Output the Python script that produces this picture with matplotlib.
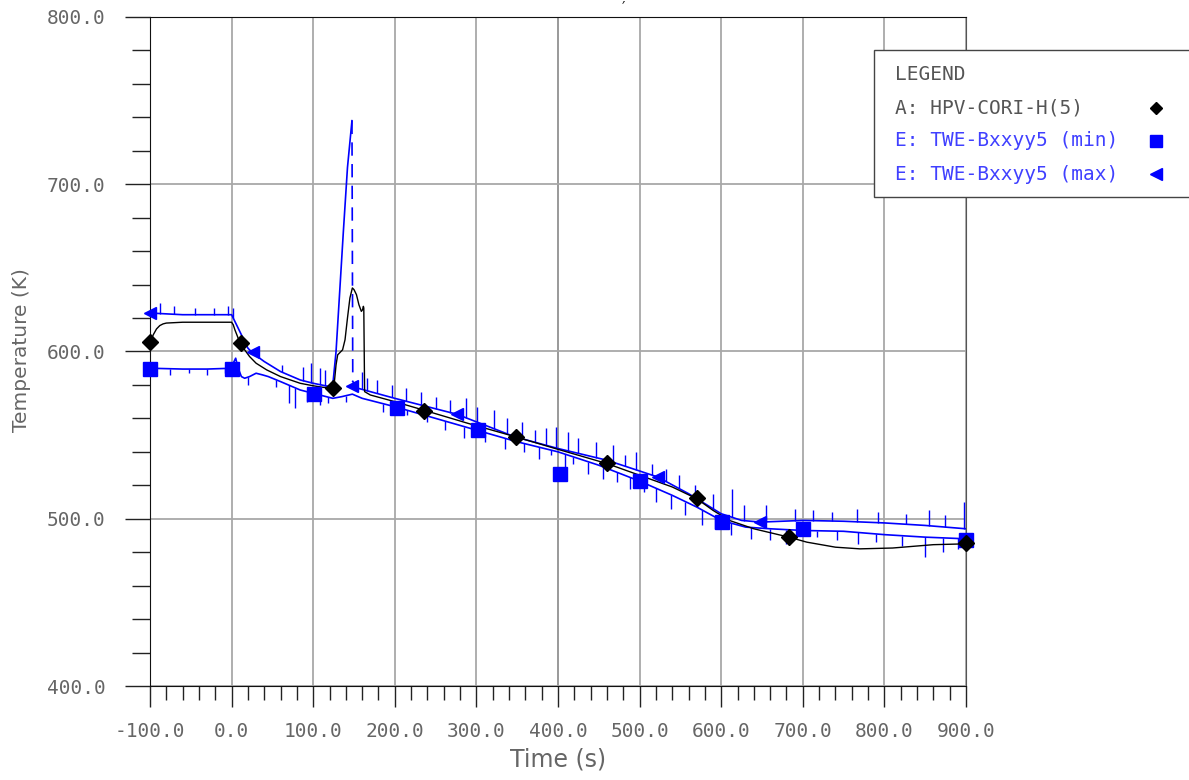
import numpy as np
import matplotlib
matplotlib.use('Agg')
import matplotlib.pyplot as plt
from matplotlib.patches import Rectangle
from matplotlib.lines import Line2D
from matplotlib.ticker import MultipleLocator, FormatStrFormatter

# A: HPV-CORI-H(5), calculated
a_t = [-100, -96, -92, -88, -84, -80, -60, -30, 0, 2, 4, 8, 11, 16, 22, 30, 43, 60, 84,
       100, 120, 124, 126, 128, 130, 133, 136, 139, 142, 145, 148, 150, 153, 156, 159,
       160.5, 161.5, 162, 163, 170, 200, 235, 290, 348, 400, 460, 500, 540, 570,
       590, 610, 640, 683, 705, 740, 770, 810, 860, 900]
a_T = [605, 610, 613.5, 615.5, 616.5, 617, 617.5, 617.5, 617.5, 616, 613, 608, 605, 601, 597, 593, 589, 585, 581,
       579.5, 578, 578, 582, 592, 598, 599.5, 601, 607, 620, 632, 638, 637, 634, 628, 624,
       625, 627, 626, 576, 574, 570, 565, 557, 549, 541.5, 533, 526, 519, 512,
       505, 499, 494, 489, 486, 483, 482, 482.5, 484.5, 485]
a_mk_t = [-100, 11, 124, 236, 348, 460, 570, 683, 900]
a_mk_T = [605.5, 605, 578, 564.5, 549, 533.5, 512.5, 489, 485.5]

# E: TWE-Bxxyy5 (min), measured
min_t = [-100, -60, -30, 0, 2, 5, 8, 12, 16, 22, 30, 38, 45, 60, 84, 100, 124, 135, 148, 160,
         200, 250, 300, 350, 400, 450, 500, 540, 570, 600, 630, 660, 700, 750, 800, 850, 900]
min_T = [590, 589.5, 589.5, 590, 593, 596, 590, 585, 584, 585, 587, 586, 585, 582, 577, 575, 572, 573, 574.5, 572,
         567, 560, 553, 546, 540, 532, 522.5, 514, 507, 499, 495, 494, 493, 492.5, 490.5, 489, 488]
min_mk_t = [-100, 0, 101, 203, 302, 402, 500, 601, 700, 900]
min_mk_T = [589.5, 589.5, 574.5, 566, 553, 527, 522.5, 498, 494, 487]
min_spk_t = [-75, -52, -30, -8, 20, 55, 70, 78, 92, 108, 118, 140, 185, 215, 240, 262, 285, 310, 335, 358,
             377, 391, 408, 418, 437, 455, 472, 488, 505, 520, 538, 556, 577, 592, 612, 636, 660, 680, 718, 742,
             768, 790, 822, 850, 872, 890]
min_spk_T = [586, 587, 586, 587, 580, 579, 569, 566, 570, 568, 569, 570, 564, 562, 558, 553, 548, 546, 542, 540,
             536, 538, 523, 533, 527, 524, 522, 518, 516, 510, 506, 502, 496, 494, 490, 488, 487, 485, 489, 487,
             485, 486, 484, 477, 480, 482]

# E: TWE-Bxxyy5 (max), measured; PEAK is the index of the 740 K excursion
max_t = [-100, -60, -30, 0, 3, 10, 20, 26, 40, 60, 84, 100, 120, 124, 128, 132, 137, 142, 147.5,
         148.5, 155, 170, 200, 276, 347, 400, 460, 522, 560, 600, 625, 648, 700, 750, 800, 850, 900]
max_T = [623, 622, 622, 622, 619, 612, 602, 599, 594, 588, 583, 581, 579, 580, 600, 632, 672, 710, 738,
         582, 578, 576, 572, 562.5, 549, 542, 535, 525, 515, 503, 499, 498, 499, 498.5, 497.5, 496, 494]
PEAK = 18
max_mk_t = [-100, 26, 147.5, 276, 522.5, 647.5]
max_mk_T = [623, 599.5, 579.5, 562.5, 525, 498]
max_spk_t = [-88, -70, -45, -22, -5, 2, 62, 88, 97, 108, 115, 160, 166, 178, 196, 214, 232, 251, 268, 287,
             301, 322, 338, 356, 372, 385, 397, 412, 425, 447, 468, 482, 495, 515, 532, 548, 568, 590, 613, 628,
             655, 690, 712, 736, 766, 792, 826, 855, 874, 898]
max_spk_T = [629, 627, 626, 626, 627, 626, 592, 591, 593, 590, 589, 588, 584, 583, 580, 578, 576, 573, 571, 572,
             567, 565, 560, 558, 553, 554, 555, 552, 548, 546, 544, 538, 540, 533, 530, 526, 520, 515, 518, 508,
             508, 506, 505, 504, 506, 504, 503, 505, 502, 510]

BLUE = '#0000ff'
plt.rcParams['font.family'] = 'DejaVu Sans'

fig = plt.figure(figsize=(11.89, 7.80), dpi=100)
W, H = 1189.0, 780.0
ax = fig.add_axes([150 / W, 1 - 686 / H, (966 - 150) / W, (686 - 17) / H])

# grid, the 400 s line is drawn black
ax.grid(which='major', color='#a8a8a8', lw=1.3, zorder=0)
ax.axvline(400, color='black', lw=1.2, zorder=0.5)

# noisy spikes hang off the measured traces
ax.vlines(max_spk_t, np.interp(max_spk_t, max_t, max_T), max_spk_T, color=BLUE, lw=1, zorder=2)
ax.vlines(min_spk_t, min_spk_T, np.interp(min_spk_t, min_t, min_T), color=BLUE, lw=1, zorder=2)

ax.plot(max_t[:PEAK + 1], max_T[:PEAK + 1], color=BLUE, lw=1.2, zorder=2)
ax.plot(max_t[PEAK:PEAK + 2], max_T[PEAK:PEAK + 2], color=BLUE, lw=1.2, ls=(0, (8, 5)), zorder=2)
ax.plot(max_t[PEAK + 1:], max_T[PEAK + 1:], color=BLUE, lw=1.2, zorder=2)
ax.plot(min_t, min_T, color=BLUE, lw=1.2, zorder=2)
ax.plot(a_t, a_T, color='black', lw=1, zorder=3)

ax.plot(max_mk_t, max_mk_T, ls='none', marker='<', ms=9, color=BLUE, zorder=4, clip_on=False)
ax.plot(min_mk_t, min_mk_T, ls='none', marker='s', ms=10, color=BLUE, zorder=4, clip_on=False)
ax.plot(a_mk_t, a_mk_T, ls='none', marker='D', ms=8.5, color='black', zorder=5, clip_on=False)

ax.set_xlim(-100, 900)
ax.set_ylim(400, 800)
ax.xaxis.set_major_locator(MultipleLocator(100))
ax.xaxis.set_minor_locator(MultipleLocator(20))
ax.yaxis.set_major_locator(MultipleLocator(100))
ax.yaxis.set_minor_locator(MultipleLocator(20))
ax.xaxis.set_major_formatter(FormatStrFormatter('%.1f'))
ax.yaxis.set_major_formatter(FormatStrFormatter('%.1f'))

ax.tick_params(axis='x', which='major', direction='out', length=15, width=1, pad=11,
               color='#222', labelcolor='#666', labelsize=14)
ax.tick_params(axis='x', which='minor', direction='out', length=10, width=1, color='#222')
ax.tick_params(axis='y', which='major', direction='out', length=18, width=1, pad=14,
               color='#222', labelcolor='#666', labelsize=14)
ax.tick_params(axis='y', which='minor', direction='out', length=13, width=1, color='#222')
for lab in ax.get_xticklabels() + ax.get_yticklabels():
    lab.set_family('DejaVu Sans Mono')

for side in ['left', 'bottom', 'top']:
    ax.spines[side].set_color('#111')
ax.spines['right'].set_color('#555')

fig.text(558 / W, 1 - 760 / H, 'Time (s)', ha='center', va='center', fontsize=17, color='#666')
fig.text(22 / W, 1 - 350 / H, 'Temperature (K)', ha='center', va='center', rotation=90,
         fontsize=14.5, color='#666')
fig.text(623 / W, 1 - 1 / H, '′', ha='center', va='top', fontsize=11, color='#222')

# legend panel
fig.add_artist(Rectangle((874 / W, 1 - 197 / H), 0.3, 147 / H, transform=fig.transFigure,
                         fc='white', ec='#444', lw=1, zorder=10, clip_on=False))
rows = [('LEGEND', '#555', None, None),
        ('A: HPV-CORI-H(5)', '#555', 'D', 'black'),
        ('E: TWE-Bxxyy5 (min)', '#4040ff', 's', BLUE),
        ('E: TWE-Bxxyy5 (max)', '#4040ff', '<', BLUE)]
for i, (txt, tc, mk, mc) in enumerate(rows):
    y = 1 - (75 + 33 * i) / H
    fig.text(895 / W, y, txt, ha='left', va='center', fontsize=14, color=tc,
             family='DejaVu Sans Mono', zorder=11)
    if mk:
        fig.add_artist(Line2D([1156 / W], [y], transform=fig.transFigure, marker=mk,
                              ms={'D': 6, 's': 8, '<': 8}[mk], color=mc, ls='none', zorder=11))

fig.savefig('out.png', dpi=100)
